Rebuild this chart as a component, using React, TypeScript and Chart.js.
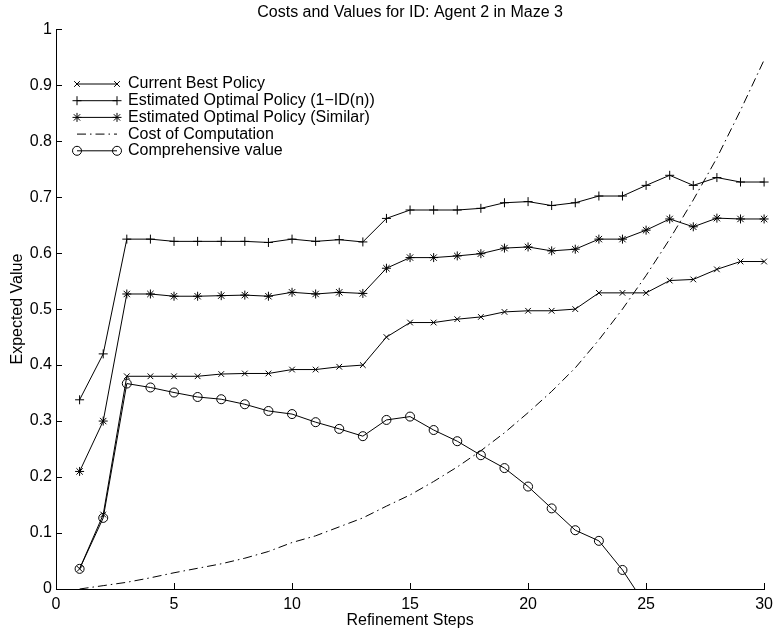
import React, { useEffect, useRef } from "react";
import { Chart, registerables } from "chart.js";

Chart.register(...registerables);

const FONT = "'Liberation Sans', Arial, Helvetica, sans-serif";

const titleText = "Costs and Values for ID: Agent 2 in Maze 3";
const xTitle = "Refinement Steps";
const yTitle = "Expected Value";

const steps = [1, 2, 3, 4, 5, 6, 7, 8, 9, 10, 11, 12, 13, 14, 15, 16, 17, 18, 19, 20, 21, 22, 23, 24, 25, 26, 27, 28, 29, 30];

const currentBest = [0.036, 0.133, 0.38, 0.38, 0.38, 0.38, 0.384, 0.385, 0.385, 0.392, 0.392, 0.397, 0.4, 0.45, 0.476, 0.476, 0.482, 0.486, 0.495, 0.497, 0.497, 0.5, 0.529, 0.529, 0.529, 0.551, 0.553, 0.571, 0.585, 0.585];
const estOptimal = [0.338, 0.42, 0.625, 0.625, 0.621, 0.621, 0.621, 0.621, 0.619, 0.625, 0.621, 0.624, 0.62, 0.662, 0.677, 0.677, 0.677, 0.68, 0.69, 0.692, 0.685, 0.69, 0.702, 0.702, 0.721, 0.739, 0.721, 0.735, 0.727, 0.727];
const estSimilar = [0.21, 0.3, 0.527, 0.527, 0.523, 0.523, 0.524, 0.525, 0.523, 0.53, 0.527, 0.53, 0.528, 0.573, 0.592, 0.592, 0.595, 0.599, 0.609, 0.611, 0.604, 0.607, 0.625, 0.625, 0.641, 0.661, 0.647, 0.6625, 0.661, 0.661];
const costOfComputation = [0.0, 0.006, 0.012, 0.02, 0.029, 0.037, 0.045, 0.055, 0.067, 0.083, 0.095, 0.111, 0.127, 0.148, 0.168, 0.192, 0.218, 0.247, 0.279, 0.315, 0.353, 0.395, 0.445, 0.5, 0.56, 0.625, 0.695, 0.77, 0.855, 0.945];
const comprehensive = [0.036, 0.127, 0.367, 0.36, 0.351, 0.343, 0.339, 0.33, 0.318, 0.3125, 0.298, 0.286, 0.273, 0.302, 0.308, 0.284, 0.264, 0.239, 0.216, 0.183, 0.144, 0.105, 0.086, 0.034, -0.03];

const seriesLabels = [
  "Current Best Policy",
  "Estimated Optimal Policy (1\u2212ID(n))",
  "Estimated Optimal Policy (Similar)",
  "Cost of Computation",
  "Comprehensive value",
];

const xTicksStep = 5;
const yTicksStep = 0.1;

function pts(values: number[]) {
  return values.map((v, i) => ({ x: steps[i], y: v }));
}

function drawMarker(ctx: CanvasRenderingContext2D, style: string, x: number, y: number, r: number) {
  ctx.beginPath();
  if (style === "circle") {
    ctx.arc(x, y, r, 0, Math.PI * 2);
  } else if (style === "cross" || style === "star") {
    ctx.moveTo(x - r, y);
    ctx.lineTo(x + r, y);
    ctx.moveTo(x, y - r);
    ctx.lineTo(x, y + r);
  }
  if (style === "crossRot" || style === "star") {
    const d = r * Math.SQRT1_2;
    ctx.moveTo(x - d, y - d);
    ctx.lineTo(x + d, y + d);
    ctx.moveTo(x - d, y + d);
    ctx.lineTo(x + d, y - d);
  }
  ctx.stroke();
}

const legendPlugin = {
  id: "matlabLegend",
  afterDraw(chart: any) {
    const ctx: CanvasRenderingContext2D = chart.ctx;
    const x0 = 77;
    const x1 = 117;
    const tx = 128;
    const y0 = 84;
    const dy = 16.7;
    chart.data.datasets.forEach((ds: any, i: number) => {
      const y = y0 + i * dy;
      ctx.save();
      ctx.strokeStyle = "#000";
      ctx.lineWidth = 1;
      ctx.setLineDash(ds.borderDash || []);
      ctx.beginPath();
      ctx.moveTo(x0, y);
      ctx.lineTo(x1, y);
      ctx.stroke();
      ctx.setLineDash([]);
      if (ds.pointRadius > 0) {
        drawMarker(ctx, ds.pointStyle, x0, y, ds.pointRadius);
        drawMarker(ctx, ds.pointStyle, x1, y, ds.pointRadius);
      }
      ctx.fillStyle = "#000";
      ctx.font = `16px ${FONT}`;
      ctx.textBaseline = "middle";
      ctx.textAlign = "left";
      ctx.fillText(ds.label, tx, y);
      ctx.restore();
    });
  },
};

const inwardTicksPlugin = {
  id: "inwardTicks",
  afterDatasetsDraw(chart: any) {
    const ctx: CanvasRenderingContext2D = chart.ctx;
    const { left, bottom } = chart.chartArea;
    const xs = chart.scales.x;
    const ys = chart.scales.y;
    ctx.save();
    ctx.strokeStyle = "#000";
    ctx.lineWidth = 1;
    ctx.beginPath();
    xs.ticks.forEach((_t: any, i: number) => {
      const px = Math.round(xs.getPixelForTick(i)) + 0.5;
      ctx.moveTo(px, bottom);
      ctx.lineTo(px, bottom - 6);
    });
    ys.ticks.forEach((_t: any, i: number) => {
      const py = Math.round(ys.getPixelForTick(i)) + 0.5;
      ctx.moveTo(left, py);
      ctx.lineTo(left + 6, py);
    });
    ctx.stroke();
    ctx.restore();
  },
};

export default function App() {
  const canvasRef = useRef<HTMLCanvasElement | null>(null);

  useEffect(() => {
    const canvas = canvasRef.current;
    if (!canvas) return;
    Chart.defaults.font.family = FONT;
    Chart.defaults.font.size = 16;
    Chart.defaults.color = "#000";

    const clipArea = { left: 10, right: 10, top: 10, bottom: 0 };
    const common = {
      borderColor: "#000",
      borderWidth: 1,
      pointBorderColor: "#000",
      pointBackgroundColor: "rgba(0,0,0,0)",
      pointBorderWidth: 1,
      tension: 0,
      fill: false,
      clip: clipArea,
    };

    const chart = new Chart(canvas, {
      type: "line",
      data: {
        datasets: [
          { ...common, label: seriesLabels[0], data: pts(currentBest), pointStyle: "crossRot", pointRadius: 4 },
          { ...common, label: seriesLabels[1], data: pts(estOptimal), pointStyle: "cross", pointRadius: 4.5 },
          { ...common, label: seriesLabels[2], data: pts(estSimilar), pointStyle: "star", pointRadius: 4.5 },
          { ...common, label: seriesLabels[3], data: pts(costOfComputation), pointRadius: 0, borderDash: [9, 4, 1.5, 4] },
          { ...common, label: seriesLabels[4], data: pts(comprehensive), pointStyle: "circle", pointRadius: 4.5 },
        ],
      },
      options: {
        animation: false,
        responsive: false,
        devicePixelRatio: 1,
        layout: { padding: { left: 0, right: 11, top: 0, bottom: 0 } },
        plugins: {
          legend: { display: false },
          tooltip: { enabled: false },
          title: {
            display: true,
            text: titleText,
            fullSize: false,
            color: "#000",
            font: { family: FONT, size: 16, weight: "normal" },
            padding: { top: 3, bottom: 7 },
          },
        },
        scales: {
          x: {
            type: "linear",
            min: 0,
            max: 30,
            ticks: { stepSize: xTicksStep, padding: 6, color: "#000", font: { size: 16 } },
            grid: { drawOnChartArea: false, drawTicks: false },
            border: { display: true, color: "#000", width: 1 },
            title: { display: true, text: xTitle, color: "#000", font: { size: 16 }, padding: { top: 0, bottom: 2 } },
            afterFit: (s: any) => {
              s.height = 43;
            },
          },
          y: {
            type: "linear",
            min: 0,
            max: 1,
            ticks: {
              stepSize: yTicksStep,
              padding: 4,
              color: "#000",
              font: { size: 16 },
              callback: (v: any) => String(Number(Number(v).toFixed(1))),
            },
            grid: { drawOnChartArea: false, drawTicks: false },
            border: { display: true, color: "#000", width: 1 },
            title: { display: true, text: yTitle, color: "#000", font: { size: 16 }, padding: { top: 8, bottom: 0 } },
            afterFit: (s: any) => {
              s.width = 56;
            },
          },
        },
      } as any,
      plugins: [inwardTicksPlugin, legendPlugin],
    });

    return () => {
      chart.destroy();
    };
  }, []);

  return (
    <div style={{ position: "absolute", left: 0, top: 0, width: 779, height: 632, background: "#fff" }}>
      <canvas ref={canvasRef} width={779} height={632} style={{ display: "block", width: 779, height: 632 }} />
    </div>
  );
}
